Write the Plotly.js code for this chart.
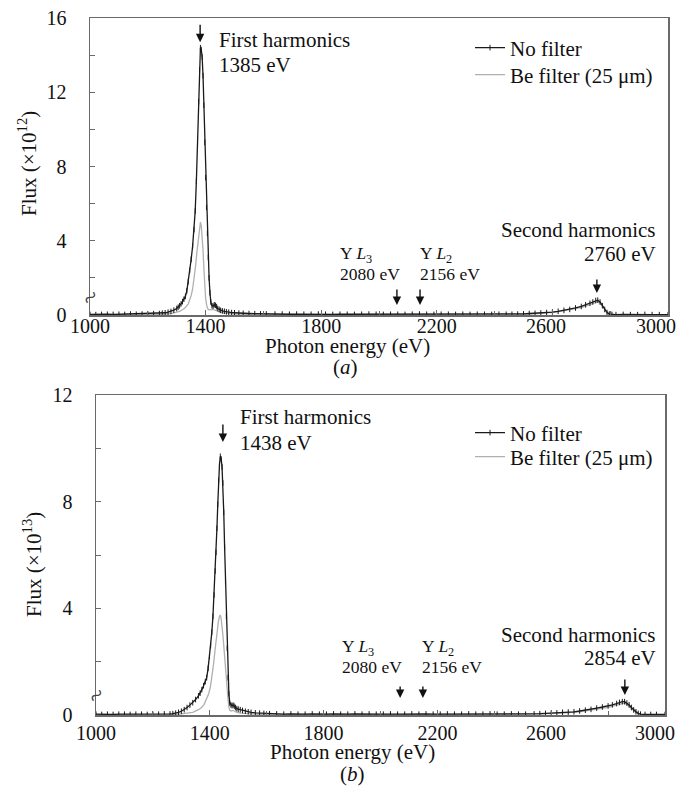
<!DOCTYPE html>
<html>
<head>
<meta charset="utf-8">
<script src="https://cdn.plot.ly/plotly-3.0.1.min.js"></script>
<style>
  html, body { margin: 0; padding: 0; background: #fff; }
  #chart { width: 681px; height: 792px; }
</style>
</head>
<body>
<div id="chart"></div>
<script>
// ---------- Data ----------
// Panel (a): flux in units of 1e12
const aNoFilterE = [1000,1020,1040,1060,1080,1100,1120,1140,1160,1180,1200,1220,1240,
  1250,1260,1270,1280,1290,1300,1305,1310,1315,1320,1325,1330,1335,1340,1345,1350,1355,1360,1364,1368,1372,1376,1379,1382,1385,1388,1391,1394,1397,1400,1403,1406,1409,1412,1415,1418,1422,1426,1430,1434,1438,1442,1447,1452,1458,1465,1472,1480,1490,1500,1515,1530,1550,1570,1590,1610,
  1640,1665,1690,1715,1740,1765,1790,1815,1840,1865,1890,1915,1940,1965,1990,2015,2040,2065,2090,2115,2140,2165,2190,2215,2240,2265,2290,2315,2340,2365,2390,2415,2440,
  2460,2480,2500,2520,2540,2560,2580,2600,2620,2640,2660,2680,2700,2715,2730,2740,2750,2757,2765,2773,2781,2789,2797,2806,2820,2845,2870,2895,2920,2945,2970,3000];
const aNoFilterF = [0.03,0.02,0.03,0.04,0.03,0.04,0.03,0.05,0.04,0.05,0.06,0.07,0.08,
  0.10,0.12,0.15,0.19,0.26,0.35,0.42,0.50,0.60,0.72,0.85,1.0,1.3,1.8,2.4,3.0,3.7,4.6,5.6,7.2,9.2,11.5,13.2,14.4,14.3,13.9,12.9,11.3,9.3,7.4,5.8,4.4,3.1,2.0,1.2,0.70,0.50,0.48,0.55,0.52,0.45,0.35,0.30,0.25,0.22,0.20,0.17,0.15,0.13,0.12,0.10,0.09,0.08,0.07,0.06,0.06,
  0.05,0.05,0.04,0.05,0.04,0.04,0.05,0.04,0.03,0.04,0.04,0.03,0.04,0.05,0.04,0.03,0.04,0.04,0.03,0.04,0.05,0.04,0.03,0.04,0.04,0.03,0.04,0.03,0.04,0.04,0.03,0.04,0.04,
  0.04,0.05,0.06,0.08,0.09,0.11,0.13,0.16,0.20,0.25,0.30,0.38,0.46,0.55,0.63,0.70,0.78,0.80,0.70,0.50,0.30,0.13,0.05,0.03,0.02,0.03,0.02,0.02,0.03,0.02,0.02,0.02];
const aBeE = [1000,1100,1200,1250,1280,1300,1310,1320,1330,1340,1345,1350,1355,1360,1365,1370,1375,1379,1382,1385,1388,1391,1394,1397,1400,1404,1408,1412,1418,1424,1430,1438,1450,1465,1480,1500,1550,1600,2000,2400,2450,2500,2550,2600,2650,2700,2730,2750,2757,2765,2775,2785,2795,2810,3000];
const aBeF = [0.01,0.01,0.02,0.04,0.08,0.14,0.20,0.28,0.40,0.60,0.80,1.05,1.4,1.9,2.6,3.4,4.2,4.8,5.0,4.8,4.3,3.5,2.5,1.6,0.9,0.5,0.32,0.28,0.30,0.30,0.28,0.22,0.15,0.10,0.07,0.05,0.04,0.03,0.02,0.02,0.03,0.04,0.08,0.14,0.26,0.40,0.56,0.68,0.72,0.63,0.42,0.22,0.06,0.02,0.01];

// Panel (b): flux in units of 1e13
const bNoFilterE = [1000,1020,1040,1060,1080,1100,1120,1140,1160,1180,1200,1220,1240,1260,
  1270,1280,1290,1300,1310,1320,1330,1340,1350,1360,1366,1372,1378,1384,1389,1394,1399,1403,1407,1411,1415,1419,1422,1425,1428,1431,1434,1437,1440,1443,1446,1449,1452,1455,1458,1461,1464,1467,1470,1474,1478,1482,1486,1490,1495,1500,1507,1515,1525,1535,1545,1560,1575,1590,1610,
  1635,1660,1685,1710,1735,1760,1785,1810,1835,1860,1885,1910,1935,1960,1985,2010,2035,2060,2085,2110,2135,2160,2185,2210,2235,2260,2285,2310,2335,2360,2385,2410,2435,2460,2485,2510,
  2540,2560,2580,2600,2620,2640,2660,2680,2700,2720,2740,2760,2780,2800,2815,2830,2840,2850,2858,2866,2874,2882,2890,2898,2906,2914,2930,2950,2970,3000];
const bNoFilterF = [0.03,0.02,0.03,0.02,0.03,0.03,0.02,0.03,0.03,0.02,0.03,0.03,0.04,0.04,
  0.05,0.07,0.10,0.14,0.20,0.28,0.37,0.46,0.58,0.72,0.82,0.95,1.1,1.25,1.4,1.75,2.2,2.6,3.1,3.7,4.5,5.4,6.1,7.0,7.9,8.8,9.4,9.7,9.6,9.3,8.7,7.6,6.3,5.0,3.7,2.5,1.4,0.80,0.45,0.38,0.35,0.37,0.33,0.28,0.24,0.22,0.20,0.17,0.14,0.12,0.10,0.08,0.07,0.06,0.05,
  0.04,0.03,0.04,0.03,0.03,0.04,0.03,0.03,0.04,0.03,0.03,0.04,0.03,0.04,0.03,0.03,0.04,0.03,0.03,0.04,0.03,0.04,0.03,0.03,0.04,0.03,0.03,0.04,0.03,0.03,0.04,0.03,0.03,0.04,0.03,0.03,
  0.04,0.05,0.06,0.07,0.08,0.10,0.11,0.12,0.15,0.18,0.21,0.26,0.30,0.34,0.38,0.43,0.47,0.50,0.50,0.45,0.38,0.28,0.19,0.12,0.06,0.03,0.02,0.02,0.02,0.02];
const bBeE = [1000,1100,1200,1280,1300,1320,1340,1360,1370,1380,1390,1396,1402,1408,1413,1418,1422,1426,1430,1434,1437,1440,1443,1446,1449,1452,1455,1458,1461,1464,1467,1470,1475,1480,1486,1495,1510,1530,1560,1600,2000,2500,2550,2600,2650,2700,2750,2800,2830,2850,2858,2870,2885,2900,2915,3000];
const bBeF = [0.01,0.01,0.01,0.02,0.04,0.06,0.10,0.20,0.27,0.40,0.62,0.80,1.05,1.45,1.9,2.4,2.85,3.2,3.5,3.7,3.75,3.6,3.35,3.0,2.6,2.15,1.8,1.4,0.95,0.6,0.30,0.18,0.15,0.17,0.15,0.10,0.07,0.05,0.03,0.02,0.01,0.02,0.03,0.05,0.08,0.12,0.20,0.29,0.37,0.44,0.45,0.36,0.20,0.08,0.02,0.01];

const seriesNames = ['No filter', 'Be filter (25 \u03bcm)'];
const xTickVals = [1000, 1400, 1800, 2200, 2600, 3000];
const xTickLabels = ['1000', '1400', '1800', '2200', '2600', '3000'];
const xMinorVals = [1200, 1600, 2000, 2400, 2800];
const aYTicks = [0, 4, 8, 12, 16];
const bYTicks = [0, 4, 8, 12];

// ---------- Layout helpers ----------
const W = 681, H = 792;
const FONT = '"Liberation Serif", "Times New Roman", Times, serif';
const INK = '#111';
const px = (x) => x / W;
const py = (y) => 1 - y / H;

const blackLine = { color: '#1a1a1a', width: 1.3 };
const blackMarker = { symbol: 'line-ns-open', size: 4, color: '#1a1a1a', line: { width: 1, color: '#1a1a1a' } };
const grayLine = { color: '#b0b0b0', width: 1.3 };

const traces = [
  { x: aBeE, y: aBeF, xaxis: 'x', yaxis: 'y', mode: 'lines', line: grayLine, name: seriesNames[1], legend: 'legend2' },
  { x: aNoFilterE, y: aNoFilterF, xaxis: 'x', yaxis: 'y', mode: 'lines+markers', line: blackLine, marker: blackMarker, name: seriesNames[0], legend: 'legend' },
  { x: bBeE, y: bBeF, xaxis: 'x2', yaxis: 'y2', mode: 'lines', line: grayLine, name: seriesNames[1], legend: 'legend4' },
  { x: bNoFilterE, y: bNoFilterF, xaxis: 'x2', yaxis: 'y2', mode: 'lines+markers', line: blackLine, marker: blackMarker, name: seriesNames[0], legend: 'legend3' }
];

// the last two labels sit slightly left of their ticks in the figure, so they are drawn as annotations
const axisLabelText = xTickLabels.map((t, i) => i < 4 ? t : '');

function xAxis(domain, anchor, standoff) {
  return {
    domain: domain, anchor: anchor, range: [999.9, 3000.1],
    tickmode: 'array', tickvals: xTickVals, ticktext: axisLabelText,
    ticks: 'inside', ticklen: 5, tickwidth: 1, tickcolor: '#6a6a6a',
    minor: { tickmode: 'array', tickvals: xMinorVals, ticks: 'inside', ticklen: 4, tickwidth: 1, tickcolor: '#6a6a6a', showgrid: false },
    showline: true, mirror: true, linecolor: '#6a6a6a', linewidth: 1.5,
    showgrid: false, zeroline: false, ticklabelstandoff: standoff,
    tickfont: { family: FONT, size: 20, color: INK }
  };
}
function yAxis(domain, anchor, max, ticks) {
  const minor = [];
  for (let i = 0; i < ticks.length - 1; i++) minor.push((ticks[i] + ticks[i + 1]) / 2);
  return {
    domain: domain, anchor: anchor, range: [0, max],
    tickmode: 'array', tickvals: ticks, ticktext: ticks.map(String),
    ticks: 'inside', ticklen: 5, tickwidth: 1, tickcolor: '#6a6a6a',
    minor: { tickmode: 'array', tickvals: minor, ticks: 'inside', ticklen: 5, tickwidth: 1, tickcolor: '#6a6a6a', showgrid: false },
    showline: true, mirror: true, linecolor: '#6a6a6a', linewidth: 1.5,
    showgrid: false, zeroline: false, ticklabelstandoff: 18,
    tickfont: { family: FONT, size: 20, color: INK }
  };
}

function txt(text, x, y, xref, yref, xanchor, size) {
  return { text: text, x: x, y: y, xref: xref, yref: yref, xanchor: xanchor, yanchor: 'middle',
           showarrow: false, font: { family: FONT, size: size || 21, color: INK } };
}
function arrow(x, y, xref, yref, len) {
  return { text: '', x: x, y: y, xref: xref, yref: yref, showarrow: true, ax: 0, ay: -len,
           arrowhead: 2, arrowsize: 1.2, arrowwidth: 1.4, arrowcolor: INK, standoff: 0, startstandoff: 0 };
}

const annotations = [
  // Panel (a)
  txt('First harmonics', 1439, 14.81, 'x', 'y', 'left'),
  txt('1385 eV', 1439, 13.47, 'x', 'y', 'left'),
  arrow(1381, 14.7, 'x', 'y', 19),
  txt('Y <i>L</i><sub>3</sub>', 1858, 3.28, 'x', 'y', 'left', 17.5),
  txt('2080 eV', 1858, 2.21, 'x', 'y', 'left', 17.5),
  txt('Y <i>L</i><sub>2</sub>', 2135, 3.28, 'x', 'y', 'left', 17.5),
  txt('2156 eV', 2135, 2.21, 'x', 'y', 'left', 17.5),
  arrow(2062, 0.54, 'x', 'y', 17),
  arrow(2142, 0.54, 'x', 'y', 17),
  txt('Second harmonics', 2965, 4.58, 'x', 'y', 'right'),
  txt('2760 eV', 2965, 3.29, 'x', 'y', 'right'),
  arrow(2754, 1.19, 'x', 'y', 15),
  txt(xTickLabels[4], px(546), py(326), 'paper', 'paper', 'center', 20),
  txt(xTickLabels[5], px(656), py(326), 'paper', 'paper', 'center', 20),
  txt('Flux (\u00d710<sup>12</sup>)', px(27), py(164), 'paper', 'paper', 'center'),
  txt('Photon energy (eV)', px(347), py(346), 'paper', 'paper', 'center'),
  txt('(<i>a</i>)', px(346), py(367), 'paper', 'paper', 'center'),
  // Panel (b)
  txt('First harmonics', 1499, 11.17, 'x2', 'y2', 'left'),
  txt('1438 eV', 1499, 10.2, 'x2', 'y2', 'left'),
  arrow(1446, 10.24, 'x2', 'y2', 19),
  txt('Y <i>L</i><sub>3</sub>', 1858, 2.55, 'x2', 'y2', 'left', 17.5),
  txt('2080 eV', 1858, 1.8, 'x2', 'y2', 'left', 17.5),
  txt('Y <i>L</i><sub>2</sub>', 2139, 2.55, 'x2', 'y2', 'left', 17.5),
  txt('2156 eV', 2139, 1.8, 'x2', 'y2', 'left', 17.5),
  arrow(2069, 0.64, 'x2', 'y2', 13),
  arrow(2149, 0.64, 'x2', 'y2', 13),
  txt('Second harmonics', 2975, 3.0, 'x2', 'y2', 'right'),
  txt('2854 eV', 2975, 2.14, 'x2', 'y2', 'right'),
  arrow(2859, 0.75, 'x2', 'y2', 17),
  txt(xTickLabels[4], px(546), py(733), 'paper', 'paper', 'center', 20),
  txt(xTickLabels[5], px(655), py(733), 'paper', 'paper', 'center', 20),
  txt('Flux (\u00d710<sup>13</sup>)', px(32), py(565), 'paper', 'paper', 'center'),
  txt('Photon energy (eV)', px(352), py(752), 'paper', 'paper', 'center'),
  txt('(<i>b</i>)', px(352), py(774), 'paper', 'paper', 'center')
];
annotations.forEach(a => { if (a.text.indexOf('Flux') === 0) a.textangle = -90; });
// axis-break marks
annotations.push({ text: '~', x: px(90), y: py(297), xref: 'paper', yref: 'paper', xanchor: 'center', yanchor: 'middle',
  showarrow: false, textangle: -40, font: { family: FONT, size: 26, color: '#444' } });
annotations.push({ text: '~', x: px(96), y: py(695), xref: 'paper', yref: 'paper', xanchor: 'center', yanchor: 'middle',
  showarrow: false, textangle: -40, font: { family: FONT, size: 26, color: '#444' } });

// one legend box per entry so the row spacing matches the figure
const legendStyle = (yCenter) => ({
  x: px(470), y: py(yCenter), xanchor: 'left', yanchor: 'middle', xref: 'paper', yref: 'paper',
  bgcolor: 'rgba(0,0,0,0)', borderwidth: 0, itemwidth: 30,
  font: { family: FONT, size: 21, color: INK }
});

const layout = {
  width: W, height: H,
  margin: { l: 0, r: 0, t: 0, b: 0 },
  paper_bgcolor: '#fff', plot_bgcolor: '#fff',
  font: { family: FONT },
  showlegend: true,
  legend: legendStyle(48),
  legend2: legendStyle(75),
  legend3: legendStyle(433),
  legend4: legendStyle(457),
  xaxis: xAxis([px(90), px(668)], 'y', -8),
  yaxis: yAxis([py(315), py(18)], 'x', 16, aYTicks),
  xaxis2: xAxis([px(96), px(665)], 'y2', -1),
  yaxis2: yAxis([py(715), py(395)], 'x2', 12, bYTicks),
  annotations: annotations
};

Plotly.newPlot('chart', traces, layout, { displayModeBar: false, staticPlot: true });
</script>
</body>
</html>
